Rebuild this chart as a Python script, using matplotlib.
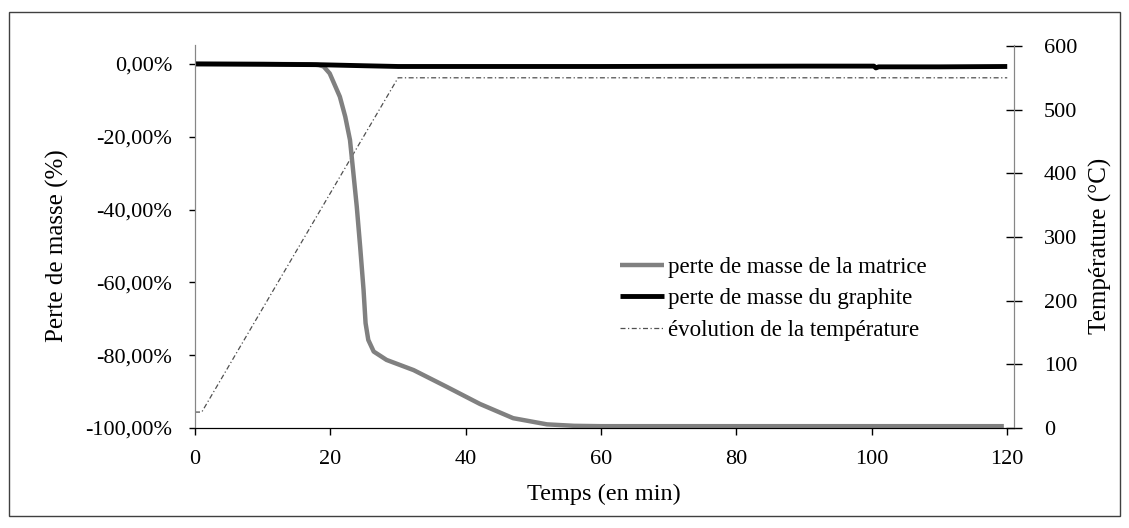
import numpy as np
import matplotlib
matplotlib.use("Agg")
import matplotlib.pyplot as plt
from matplotlib.patches import Rectangle
from matplotlib.ticker import FuncFormatter

plt.rcParams['font.family'] = ['Liberation Serif', 'DejaVu Serif']

# temps (min) et perte de masse de la matrice (fraction)
t_matrice = [0, 10, 17, 18.3, 19.0, 19.9, 21.4, 22.2, 22.9, 23.4, 23.9, 24.4,
             24.9, 25.2, 25.6, 26.4, 28.3, 32.3, 37.2, 42.1, 47, 52, 56, 60,
             80, 100, 119.5]
perte_matrice = [0.0, 0.0, -0.001, -0.003, -0.007, -0.026, -0.09, -0.145,
                 -0.209, -0.30, -0.392, -0.502, -0.62, -0.712, -0.758, -0.79,
                 -0.813, -0.841, -0.887, -0.934, -0.973, -0.99, -0.994,
                 -0.995, -0.995, -0.995, -0.995]

# perte de masse du graphite
t_graphite = [0, 10, 18, 25, 30, 60, 90, 100.3, 100.6, 101, 110, 120]
perte_graphite = [0.0, -0.001, -0.002, -0.005, -0.007, -0.007, -0.006, -0.006,
                  -0.011, -0.008, -0.008, -0.007]

# évolution de la température (°C)
t_temp = [0, 1, 30, 120]
temperature = [25, 25, 550, 550]

fig = plt.figure(figsize=(11.29, 5.28), dpi=100)
ax = fig.add_axes([195 / 1129, 100 / 528, 819 / 1129, 383 / 528])
ax2 = ax.twinx()

l1, = ax.plot(t_matrice, perte_matrice, color='#808080', lw=3.2,
              solid_capstyle='butt', solid_joinstyle='round')
l2, = ax.plot(t_graphite, perte_graphite, color='black', lw=3.5, solid_capstyle='butt')
l3, = ax2.plot(t_temp, temperature, color='#505050', lw=0.9,
               linestyle=(0, (4, 2, 1, 2)))
ax.set_zorder(ax2.get_zorder() + 1)
ax.patch.set_visible(False)

ax.set_xlim(0, 121)
ax.set_ylim(-1.0, 0.052)
ax2.set_ylim(0, 601.5)
ax.set_xticks([0, 20, 40, 60, 80, 100, 120])
ax.set_yticks([-1.0, -0.8, -0.6, -0.4, -0.2, 0.0])
ax2.set_yticks([0, 100, 200, 300, 400, 500, 600])
ax.yaxis.set_major_formatter(FuncFormatter(
    lambda v, p: ('%.2f%%' % (v * 100)).replace('.', ',').replace('-0,00', '0,00')))

for a in (ax, ax2):
    a.spines['top'].set_visible(False)
    a.spines['left'].set_color('#868686')
    a.spines['right'].set_color('#868686')
    a.spines['bottom'].set_color('black')
ax.tick_params(axis='x', labelsize=16, direction='out', length=5, width=1, pad=11)
ax.tick_params(axis='y', labelsize=16, direction='out', length=4.5, width=1, pad=12)
ax2.tick_params(axis='y', labelsize=16, direction='inout', length=11, width=1, pad=16)

fig.text(57 / 1129, 1 - 246 / 528, 'Perte de masse (%)', rotation=90,
         ha='center', va='center', fontsize=18)
fig.text(1100 / 1129, 1 - 246 / 528, 'Température (°C)', rotation=90,
         ha='center', va='center', fontsize=18)
fig.text(604 / 1129, 1 - 494 / 528, 'Temps (en min)', ha='center', va='center',
         fontsize=17.5)

fig.legend([l1, l2, l3],
           ['perte de masse de la matrice', 'perte de masse du graphite',
            'évolution de la température'],
           loc='upper left', bbox_to_anchor=(620 / 1129, 1 - 257 / 528),
           frameon=False, fontsize=16.5, handlelength=1.9, handletextpad=0.2,
           labelspacing=0.45, borderpad=0, borderaxespad=0)

fig.patches.append(Rectangle((9 / 1129, 12 / 528), 1111 / 1129, 504 / 528,
                             transform=fig.transFigure, fill=False,
                             edgecolor='#404040', lw=1))

fig.savefig('out.png', dpi=100)
